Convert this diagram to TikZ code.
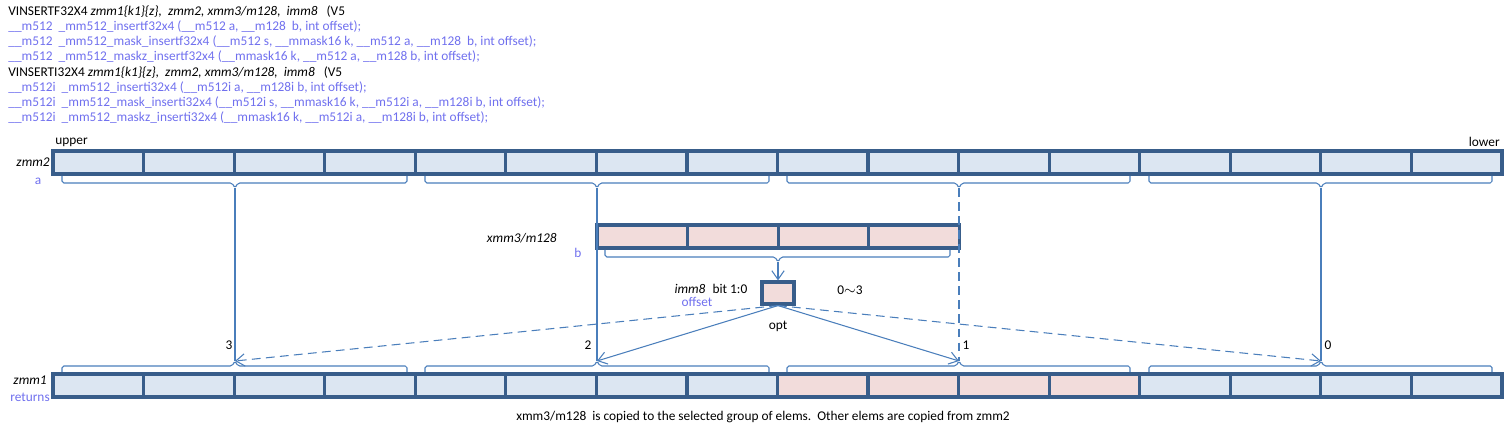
\documentclass[tikz,border=0pt]{standalone}
\usepackage{fontspec}
\setmainfont{Carlito}
\usetikzlibrary{arrows.meta,positioning,calc}
\definecolor{regfill}{HTML}{DCE6F2}
\definecolor{srcfill}{HTML}{F2DCDB}
\definecolor{regline}{HTML}{385D8A}
\definecolor{link}{HTML}{4A7EBB}
\definecolor{argblue}{HTML}{7070EE}
\newcommand{\figfont}{\fontsize{7.6pt}{9pt}\selectfont}
\tikzset{
  cell/.style={draw=regline, line width=1.8pt, fill=regfill, minimum width=1.811cm, minimum height=0.46cm, inner sep=0pt},
  xcell/.style={cell, fill=srcfill},
  regname/.style={font=\figfont\itshape, anchor=east, inner sep=0pt},
  argname/.style={text=argblue, inner sep=0pt},
  proto/.style={text=argblue, anchor=west, inner sep=0pt},
  grp/.style={draw=link, line width=0.6pt, rounded corners=1pt},
  sel/.style={draw=link, line width=0.6pt, -{Straight Barb[length=5pt,width=7pt]}},
  unsel/.style={sel, dash pattern=on 5pt off 3pt},
}
% group brace below a register: x1, tip x, x2, top y, tip name
\newcommand{\grpdown}[5]{\draw[grp] (#1,#4) -- (#1,#4+7) -- (#2-3,#4+7) -- (#2,#4+12) -- (#2+3,#4+7) -- (#3,#4+7) -- (#3,#4);
  \coordinate (#5) at (#2,#4+12);}
% group brace above a register
\newcommand{\grpup}[5]{\draw[grp] (#1,#4) -- (#1,#4-6) -- (#2-3,#4-6) -- (#2,#4-11) -- (#2+3,#4-6) -- (#3,#4-6) -- (#3,#4);
  \coordinate (#5) at (#2,#4-11);}

\begin{document}
\begin{tikzpicture}[x=0.02cm, y=-0.02cm, font=\figfont]
\useasboundingbox (0,0) rectangle (1509,432);

% prototypes
\node[anchor=west, inner sep=0pt] (hf) at (8,12) {VINSERTF32X4 \textit{zmm1\{k1\}\{z\},\ \ zmm2, xmm3/m128,\ \ imm8}\ \ \ (V5};
\node[proto] (pf0) at (8,27) {\_\_m512\ \ \_mm512\_insertf32x4 (\_\_m512 a, \_\_m128\ \ b, int offset);};
\node[proto] (pf1) at (8,42) {\_\_m512\ \ \_mm512\_mask\_insertf32x4 (\_\_m512 s, \_\_mmask16 k, \_\_m512 a, \_\_m128\ \ b, int offset);};
\node[proto] (pf2) at (8,57) {\_\_m512\ \ \_mm512\_maskz\_insertf32x4 (\_\_mmask16 k, \_\_m512 a, \_\_m128 b, int offset);};
\node[anchor=west, inner sep=0pt] (hi) at (8,73) {VINSERTI32X4 \textit{zmm1\{k1\}\{z\},\ \ zmm2, xmm3/m128,\ \ imm8}\ \ \ (V5};
\node[proto] (pi0) at (8,88) {\_\_m512i\ \ \_mm512\_inserti32x4 (\_\_m512i a, \_\_m128i b, int offset);};
\node[proto] (pi1) at (8,103) {\_\_m512i\ \ \_mm512\_mask\_inserti32x4 (\_\_m512i s, \_\_mmask16 k, \_\_m512i a, \_\_m128i b, int offset);};
\node[proto] (pi2) at (8,118) {\_\_m512i\ \ \_mm512\_maskz\_inserti32x4 (\_\_mmask16 k, \_\_m512i a, \_\_m128i b, int offset);};

% zmm2
\node[anchor=west, inner sep=0pt] (up) at (55,142) {upper};
\node[anchor=east, inner sep=0pt] (lo) at (1500,142) {lower};
\foreach \i in {0,...,15} \node[cell] (a\i) at ({53+90.5625*(\i+0.5)},162.5) {};
\node[regname] (zmmtwo) at (50,162) {zmm2};
\node[argname] (arga) at (38,181) {a};
\grpdown{62}{235}{407}{176}{t3} \grpdown{425}{597}{769}{176}{t2}
\grpdown{787}{959}{1130}{176}{t1} \grpdown{1149}{1321}{1492}{176}{t0}

% xmm3/m128
\foreach \i in {0,...,3} \node[xcell] (b\i) at ({597+90.5625*(\i+0.5)},236.5) {};
\node[regname] (xmm) at (557,238) {xmm3/m128};
\node[argname] (argb) at (578,253) {b};
\grpdown{605}{778}{950}{250}{xb}

% imm8
\node[xcell, minimum width=0.64cm, minimum height=0.44cm] (imm) at (778,293) {};
\node[font=\figfont\itshape, inner sep=0pt] (immname) at (690,289) {imm8};
\node[inner sep=0pt] (bits) at (730,289) {bit 1:0};
\node[inner sep=0pt] (range) at (850,290) {0$\sim$3};
\node[argname] (argoff) at (697,302) {offset};
\node[inner sep=0pt] (opt) at (778,326) {opt};
\draw[sel] (xb) -- (imm.north);

% zmm1
\foreach \i in {0,...,7,12,13,14,15} \node[cell] (r\i) at ({53+90.5625*(\i+0.5)},385.5) {};
\foreach \i in {8,...,11} \node[xcell] (r\i) at ({53+90.5625*(\i+0.5)},385.5) {};
\node[regname] (zmmone) at (47,380) {zmm1};
\node[argname] (argret) at (30,397) {returns};
\grpup{62}{235}{407}{372}{s3} \grpup{425}{597}{769}{372}{s2}
\grpup{787}{959}{1130}{372}{s1} \grpup{1149}{1321}{1492}{372}{s0}

% lanes
\draw[link, line width=0.6pt] (t3) -- (s3);
\draw[link, line width=0.6pt] (t2) -- (s2);
\draw[link, line width=0.6pt, dash pattern=on 5pt off 3pt] (t1) -- (s1);
\draw[link, line width=0.6pt] (t0) -- (s0);
\draw[unsel] (imm.south) -- (s3);
\draw[sel] (imm.south) -- (s2);
\draw[sel] (imm.south) -- (s1);
\draw[unsel] (imm.south) -- (s0);
\node[inner sep=0pt] (n3) at (229,345) {3};
\node[inner sep=0pt] (n2) at (588,345) {2};
\node[inner sep=0pt] (n1) at (966,345) {1};
\node[inner sep=0pt] (n0) at (1328,345) {0};

\node[inner sep=0pt] (note) at (763,417) {xmm3/m128\ \ is copied to the selected group of elems.\ \ Other elems are copied from zmm2};
\end{tikzpicture}
\end{document}
